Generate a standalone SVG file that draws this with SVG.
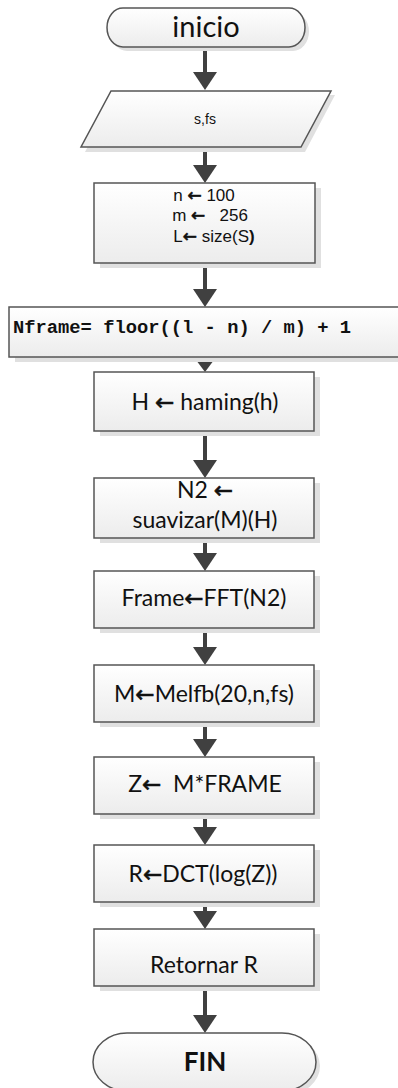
<svg xmlns="http://www.w3.org/2000/svg" width="398" height="1088" viewBox="0 0 398 1088">
  <defs>
    <linearGradient id="fillGrad" x1="0" y1="0" x2="0" y2="1">
      <stop offset="0" stop-color="#ffffff"/>
      <stop offset="1" stop-color="#ececec"/>
    </linearGradient>
    <style>
      .shape { fill: url(#fillGrad); stroke: #555555; stroke-width: 1.5; }
      .shadow { fill: #e0e0e0; }
      .lbl { font-family: Lato, "Open Sans", sans-serif; font-size: 23px; fill: #111111; text-anchor: middle; }
      .lbl-s { font-family: "Liberation Sans", Arial, sans-serif; font-size: 17px; fill: #111111; text-anchor: middle; }
      .mono { font-family: "Liberation Mono", "Courier New", monospace; font-size: 18.8px; font-weight: bold; fill: #111111; }
      .arr { font-family: "DejaVu Sans", sans-serif; stroke: #111111; stroke-width: 0.6; }
      .conn { stroke: #404040; stroke-width: 4; fill: none; }
      .head { fill: #404040; }
    </style>
  </defs>

  <rect width="398" height="1088" fill="#ffffff"/>

  <!-- connectors -->
  <g id="connectors">
    <line class="conn" x1="205" y1="47" x2="205" y2="74"/>
    <path class="head" d="M193,72 L217,72 L205,90 Z"/>
    <line class="conn" x1="205" y1="148" x2="205" y2="167"/>
    <path class="head" d="M193,165 L217,165 L205,183 Z"/>
    <line class="conn" x1="205" y1="263" x2="205" y2="291"/>
    <path class="head" d="M193,289 L217,289 L205,307 Z"/>
    <path class="head" d="M193,356 L217,356 L205,372 Z"/>
    <line class="conn" x1="205" y1="431" x2="205" y2="462"/>
    <path class="head" d="M193,460 L217,460 L205,478 Z"/>
    <line class="conn" x1="205" y1="538" x2="205" y2="555"/>
    <path class="head" d="M193,553 L217,553 L205,571 Z"/>
    <line class="conn" x1="205" y1="628" x2="205" y2="649"/>
    <path class="head" d="M193,647 L217,647 L205,665 Z"/>
    <line class="conn" x1="205" y1="722" x2="205" y2="741"/>
    <path class="head" d="M193,739 L217,739 L205,757 Z"/>
    <line class="conn" x1="205" y1="814" x2="205" y2="829"/>
    <path class="head" d="M193,827 L217,827 L205,845 Z"/>
    <line class="conn" x1="205" y1="902" x2="205" y2="913"/>
    <path class="head" d="M193,911 L217,911 L205,929 Z"/>
    <line class="conn" x1="205" y1="986" x2="205" y2="1017"/>
    <path class="head" d="M193,1015 L217,1015 L205,1033 Z"/>
  </g>

  <!-- start terminator -->
  <g id="inicio">
    <rect class="shadow" x="111" y="12" width="198" height="39" rx="16" ry="19.5"/>
    <rect class="shape" x="107" y="8" width="198" height="39" rx="16" ry="19.5"/>
    <text class="lbl" x="206" y="37" style="font-size:29px">inicio</text>
  </g>

  <!-- input -->
  <g id="entrada">
    <polygon class="shadow" points="115,95 335,95 305,152 85,152"/>
    <polygon class="shape" points="111,91 331,91 301,147 81,147"/>
    <text class="lbl-s" x="205" y="124" style="font-size:14px">s,fs</text>
  </g>

  <!-- initial values -->
  <g id="inicializar">
    <rect class="shadow" x="100" y="188" width="221" height="80"/>
    <rect class="shape" x="94" y="183" width="221" height="80"/>
    <text class="lbl-s" x="204" y="201">n <tspan class="arr">←</tspan> 100</text>
    <text class="lbl-s" x="210" y="221" xml:space="preserve">m <tspan class="arr">←</tspan>   256</text>
    <text class="lbl-s" x="214" y="242">L<tspan class="arr">←</tspan> size(S<tspan font-weight="bold">)</tspan></text>
  </g>

  <!-- frame count -->
  <g id="nframe">
    <rect class="shadow" x="15" y="312" width="400" height="50"/>
    <rect class="shape" x="9" y="307" width="400" height="50"/>
    <text class="mono" x="13" y="333">Nframe= floor((l - n) / m) + 1</text>
  </g>

  <g id="hamming">
    <rect class="shadow" x="100" y="377" width="220" height="59"/>
    <rect class="shape" x="94" y="372" width="220" height="59"/>
    <text class="lbl" x="205" y="410">H <tspan class="arr">←</tspan> haming(h)</text>
  </g>

  <g id="suavizar">
    <rect class="shadow" x="100" y="483" width="220" height="60"/>
    <rect class="shape" x="94" y="478" width="220" height="60"/>
    <text class="lbl" x="205" y="498">N2 <tspan class="arr">←</tspan></text>
    <text class="lbl" x="205" y="528">suavizar(M)(H)</text>
  </g>

  <g id="fft">
    <rect class="shadow" x="100" y="576" width="220" height="57"/>
    <rect class="shape" x="94" y="571" width="220" height="57"/>
    <text class="lbl" x="204" y="606">Frame<tspan class="arr">←</tspan>FFT(N2)</text>
  </g>

  <g id="melfb">
    <rect class="shadow" x="100" y="670" width="220" height="57"/>
    <rect class="shape" x="94" y="665" width="220" height="57"/>
    <text class="lbl" x="204" y="702">M<tspan class="arr">←</tspan>Melfb(20,n,fs)</text>
  </g>

  <g id="producto">
    <rect class="shadow" x="100" y="762" width="220" height="57"/>
    <rect class="shape" x="94" y="757" width="220" height="57"/>
    <text class="lbl" x="205" y="792" xml:space="preserve">Z<tspan class="arr">←</tspan>  M*FRAME</text>
  </g>

  <g id="dct">
    <rect class="shadow" x="100" y="850" width="220" height="57"/>
    <rect class="shape" x="94" y="845" width="220" height="57"/>
    <text class="lbl" x="203" y="882">R<tspan class="arr">←</tspan>DCT(log(Z))</text>
  </g>

  <g id="retornar">
    <rect class="shadow" x="100" y="934" width="220" height="57"/>
    <rect class="shape" x="94" y="929" width="220" height="57"/>
    <text class="lbl" x="204" y="973">Retornar R</text>
  </g>

  <!-- end terminator -->
  <g id="fin">
    <rect class="shadow" x="97" y="1037" width="223" height="58" rx="34" ry="29"/>
    <rect class="shape" x="93" y="1033" width="223" height="58" rx="34" ry="29"/>
    <text class="lbl" x="205" y="1071" style="font-size:26px;font-weight:bold">FIN</text>
  </g>
</svg>
